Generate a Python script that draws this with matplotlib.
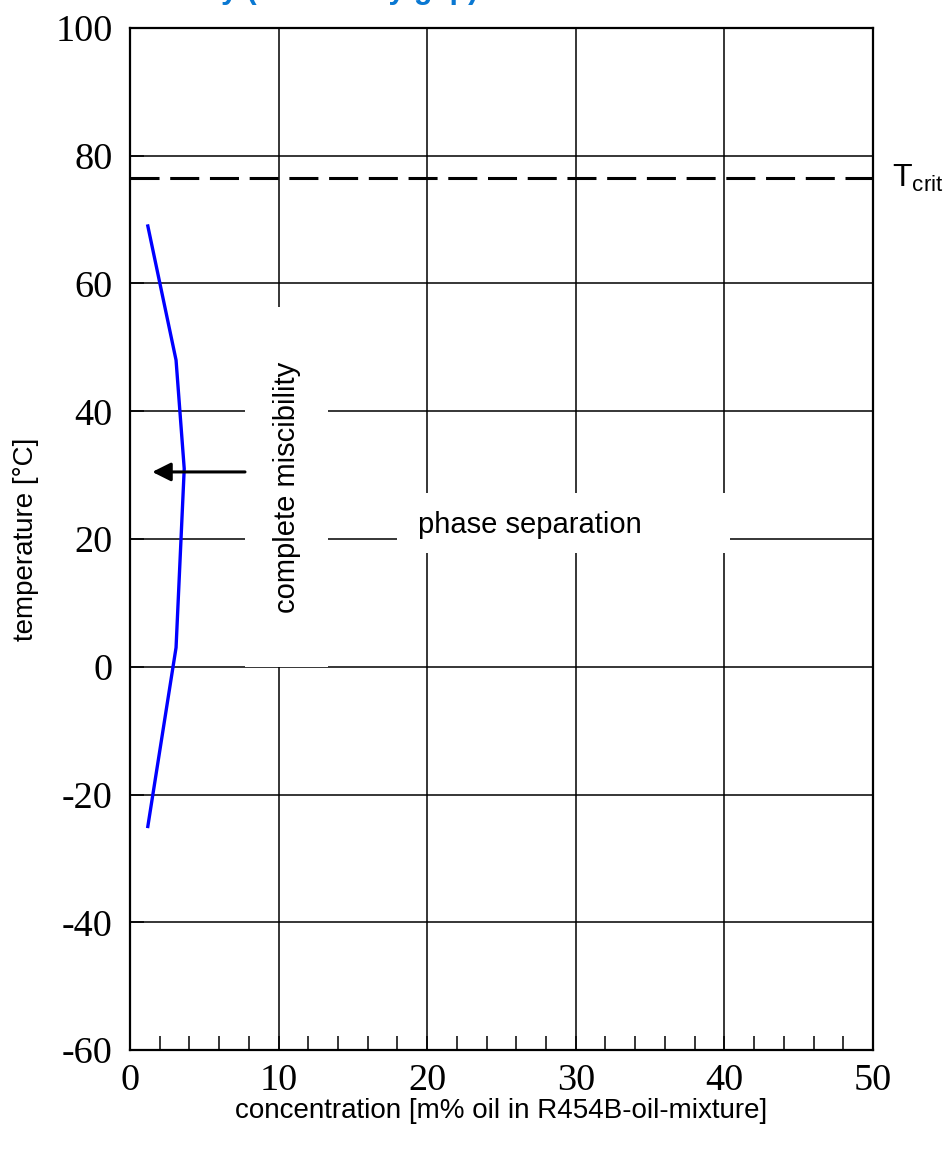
import matplotlib.pyplot as plt
from matplotlib.patches import Rectangle
from matplotlib.transforms import blended_transform_factory

plt.rcParams['font.family'] = ['Liberation Sans', 'DejaVu Sans']
plt.rcParams['mathtext.fontset'] = 'custom'
plt.rcParams['mathtext.rm'] = 'Liberation Sans'
plt.rcParams['axes.unicode_minus'] = False

# --- data ---
oil_conc = [1.2, 3.1, 3.65, 3.1, 1.2]      # m% oil
temp_c = [69, 48, 31, 3, -25]             # deg C
t_crit = 76.5

x_ticks = [0, 10, 20, 30, 40, 50]
y_ticks = [-60, -40, -20, 0, 20, 40, 60, 80, 100]

# label masks (white boxes behind the texts): x0, y0, width, height in data units
misc_box = (7.74, 0.0, 5.6, 56.3)
sep_box = (17.97, 17.8, 22.4, 9.4)

fig = plt.figure(figsize=(9.53, 11.51), dpi=100)
ax = fig.add_axes([0.1364, 0.0877, 0.7796, 0.888])

ax.set_xlim(0, 50)
ax.set_ylim(-60, 100)
ax.set_xticks(x_ticks)
ax.set_yticks(y_ticks)
ax.set_xticks([v for v in range(0, 51, 2) if v % 10], minor=True)
ax.grid(True, which='major', color='black', lw=1.1, zorder=0)
ax.set_axisbelow(True)

ax.tick_params(which='major', direction='in', length=10, width=1.1,
               labelsize=27.5)
ax.tick_params(axis='y', pad=12.5)
ax.tick_params(axis='x', pad=10)
ax.tick_params(which='minor', direction='in', length=10, width=1.1)
ax.tick_params(axis='y', which='both', right=False)
ax.tick_params(axis='x', which='both', top=False)
for lab in ax.get_xticklabels() + ax.get_yticklabels():
    lab.set_fontfamily('Liberation Serif')
for sp in ax.spines.values():
    sp.set_linewidth(1.6)

# white masks
for x0, y0, w, h in (misc_box, sep_box):
    ax.add_patch(Rectangle((x0, y0), w, h, fc='white', ec='none', zorder=1))

ax.plot(oil_conc, temp_c, color='#0000ff', lw=2.4, zorder=3)
ax.axhline(t_crit, color='black', lw=2.2, dashes=(9.5, 3.5), zorder=3)

ax.annotate('', xy=(1.5, 30.5), xytext=(7.74, 30.5),
            arrowprops=dict(arrowstyle='-|>,head_length=0.4,head_width=0.2',
                            mutation_scale=28, lw=2.2, color='black',
                            shrinkA=0, shrinkB=0), zorder=4)

ax.text(10.57, 28.1, 'complete miscibility', rotation=90, fontsize=21,
        ha='center', va='center', zorder=4)
ax.text(26.9, 22.2, 'phase separation', fontsize=21,
        ha='center', va='center', zorder=4)

trans = blended_transform_factory(ax.transAxes, ax.transData)
ax.text(1.026, t_crit, r'T$_{\mathregular{crit}}$', transform=trans,
        fontsize=23, ha='left', va='center', clip_on=False)

ax.set_xlabel('concentration [m% oil in R454B-oil-mixture]', fontsize=20, labelpad=0)
ax.set_ylabel('temperature [°C]', fontsize=20, labelpad=12)

# title, cut off by the top edge of the image
fig.text(478 / 953, 1.0 + 2 / 1151, 'Solubility (miscibility gap)', fontsize=22,
         fontweight='bold', color='#0a78d2', ha='right', va='baseline')

fig.savefig('out.png', dpi=100)
